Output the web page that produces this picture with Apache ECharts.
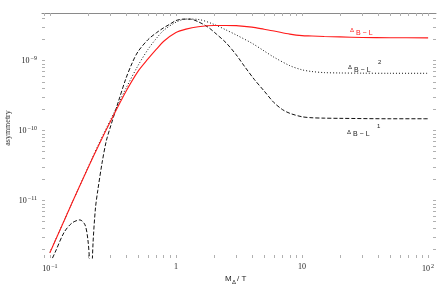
<!DOCTYPE html>
<html><head><meta charset="utf-8">
<script src="https://cdn.jsdelivr.net/npm/echarts@6/dist/echarts.min.js"></script>
<style>html,body{margin:0;padding:0;background:#fff}#c{width:441px;height:290px}</style>
</head><body><div id="c"></div>
<script>
// ---- data (x = M_Delta/T, y = asymmetry) ----
const xMain = [0.1, 0.15, 0.2, 0.25, 0.3, 0.4, 0.5, 0.6, 0.7, 0.8, 1.0, 1.2, 1.5, 2, 2.5, 3, 4, 5, 6, 8, 10, 12, 15, 20, 30, 50, 100];
const redValues = [1.8e-12, 9.3e-12, 2.9e-11, 6.8e-11, 1.32e-10, 3.6e-10, 7.05e-10, 1.06e-9, 1.46e-9, 1.9e-9, 2.53e-9, 2.83e-9, 3.06e-9, 3.19e-9, 3.19e-9, 3.17e-9, 3.02e-9, 2.82e-9, 2.66e-9, 2.4e-9, 2.28e-9, 2.26e-9, 2.22e-9, 2.19e-9, 2.15e-9, 2.13e-9, 2.12e-9];
const dottedValues = [1.82e-12, 9.3e-12, 2.95e-11, 7.08e-11, 1.38e-10, 3.98e-10, 8.51e-10, 1.45e-9, 2.09e-9, 2.72e-9, 3.55e-9, 3.94e-9, 3.89e-9, 3.31e-9, 2.75e-9, 2.34e-9, 1.78e-9, 1.38e-9, 1.12e-9, 8.5e-10, 7.41e-10, 7.0e-10, 6.76e-10, 6.68e-10, 6.64e-10, 6.61e-10, 6.61e-10];
const xDashed = [0.1, 0.11, 0.13, 0.15, 0.173, 0.19, 0.2, 0.206, 0.211, 0.215, 0.22, 0.23, 0.24, 0.26, 0.28, 0.3, 0.35, 0.4, 0.45, 0.5, 0.6, 0.7, 0.8, 0.9, 1.0, 1.15, 1.3, 1.5, 1.8, 2.1, 2.5, 3, 3.5, 4.2, 5, 6, 7, 8, 10, 12, 15, 20, 50, 100];
const dashedValues = [1.26e-12, 1.82e-12, 3.55e-12, 4.8e-12, 5.3e-12, 4.5e-12, 2.8e-12, 1.4e-12, 2.5e-13, 8e-13, 2.5e-12, 7.9e-12, 1.41e-11, 3.55e-11, 7.1e-11, 1.09e-10, 2.63e-10, 5.5e-10, 9.33e-10, 1.35e-9, 2.0e-9, 2.51e-9, 2.96e-9, 3.35e-9, 3.75e-9, 3.93e-9, 3.93e-9, 3.61e-9, 3.01e-9, 2.39e-9, 1.8e-9, 1.22e-9, 8.28e-10, 5.35e-10, 3.7e-10, 2.51e-10, 2.0e-10, 1.77e-10, 1.58e-10, 1.53e-10, 1.51e-10, 1.5e-10, 1.48e-10, 1.48e-10];
const xTickValues = [0.1, 1, 10, 100];
const xTickLabels = ['10{s|−1}', '1', '10', '10{s|2}'];
const yTickValues = [1e-11, 1e-10, 1e-9];
const yTickLabels = ['10{s|−11}', '10{s|−10}', '10{s|−9}'];

// ---- axis ranges (log10 space) ----
const XMIN = -1.0625, XMAX = 2.0625, YMIN = -11.82, YMAX = -8.318;
const L = Math.log10;
function minorTicks(lo, hi) {
  const out = [];
  for (let n = Math.floor(lo) - 1; n <= Math.ceil(hi); n++)
    for (let k = 1; k <= 9; k++) { const v = L(k) + n; if (v >= lo - 1e-9 && v <= hi + 1e-9) out.push(v); }
  return out;
}
const xTicksAll = minorTicks(XMIN, XMAX), yTicksAll = minorTicks(YMIN, YMAX);
const xMajorLog = xTickValues.map(L), yMajorLog = yTickValues.map(L);
function fmt(majors, labels) {
  return v => { const i = majors.findIndex(m => Math.abs(m - v) < 1e-6); return i >= 0 ? labels[i] : ''; };
}
const serif = 'Liberation Serif';
const labelRich = { s: { fontSize: 6, fontFamily: serif, color: '#222', verticalAlign: 'top', lineHeight: 11, padding: [0,0,4,1] } };
const tickStyle = { color: '#b0b0b0', width: 1 };
const pairs = (xs, ys) => xs.map((x, i) => [L(x), L(ys[i])]);

const chart = echarts.init(document.getElementById('c'), null, { renderer: 'canvas' });
chart.setOption({
  animation: false,
  grid: { left: 42, right: 5, top: 13, bottom: 32, containLabel: false },
  xAxis: [
    { type: 'value', min: XMIN, max: XMAX, position: 'bottom', splitLine: { show: false },
      axisLine: { show: false, onZero: false },
      axisTick: { show: true, inside: true, length: 3, customValues: xTicksAll, lineStyle: tickStyle },
      axisLabel: { show: true, customValues: xMajorLog, formatter: fmt(xMajorLog, xTickLabels), margin: 5,
        fontFamily: serif, fontSize: 8, color: '#222', rich: labelRich } },
    { type: 'value', min: XMIN, max: XMAX, position: 'top', splitLine: { show: false },
      axisLine: { show: true, onZero: false, lineStyle: { color: '#8a8a8a', width: 1 } },
      axisTick: { show: true, inside: true, length: 3, customValues: xTicksAll, lineStyle: tickStyle },
      axisLabel: { show: false } }
  ],
  yAxis: [
    { type: 'value', min: YMIN, max: YMAX, position: 'left', splitLine: { show: false },
      axisLine: { show: false, onZero: false },
      axisTick: { show: true, inside: true, length: 3, customValues: yTicksAll, lineStyle: tickStyle },
      axisLabel: { show: true, customValues: yMajorLog, formatter: fmt(yMajorLog, yTickLabels), margin: 5,
        fontFamily: serif, fontSize: 8, color: '#222', rich: labelRich } },
    { type: 'value', min: YMIN, max: YMAX, position: 'right', splitLine: { show: false },
      axisLine: { show: false, onZero: false },
      axisTick: { show: true, inside: true, length: 3, customValues: yTicksAll, lineStyle: tickStyle },
      axisLabel: { show: false } }
  ],
  series: [
    { type: 'line', data: pairs(xDashed, dashedValues), showSymbol: false, smooth: 0.3, clip: true,
      lineStyle: { color: '#111', width: 1, type: [4, 2] } },
    { type: 'line', data: pairs(xMain, dottedValues), showSymbol: false, smooth: 0.3, clip: true,
      lineStyle: { color: '#111', width: 1, type: [1, 2] } },
    { type: 'line', data: pairs(xMain, redValues), showSymbol: false, smooth: 0.3, clip: true,
      lineStyle: { color: '#ff1a1a', width: 1.1 } }
  ],
  graphic: [
    { type: 'text', x: 8, y: 128, rotation: Math.PI / 2, style: { text: 'asymmetry', font: '8px "Liberation Serif"', fill: '#333', align: 'center', verticalAlign: 'middle' } },
    { type: 'text', x: 225, y: 275, style: { text: 'M', font: '8px "Liberation Sans"', fill: '#222' } },
    { type: 'text', x: 232, y: 279, style: { text: 'Δ', font: '6px "Liberation Sans"', fill: '#222' } },
    { type: 'text', x: 237, y: 275, style: { text: '/ T', font: '8px "Liberation Sans"', fill: '#222' } },
    { type: 'text', x: 350, y: 27, style: { text: 'Δ', font: '6px "Liberation Sans"', fill: '#ff1a1a' } },
    { type: 'text', x: 356, y: 30, style: { text: 'B − L', font: '7px "Liberation Sans"', fill: '#ff1a1a' } },
    { type: 'text', x: 348, y: 64, style: { text: 'Δ', font: '6px "Liberation Sans"', fill: '#222' } },
    { type: 'text', x: 354, y: 67, style: { text: 'B − L', font: '7px "Liberation Sans"', fill: '#222' } },
    { type: 'text', x: 378, y: 59, style: { text: '2', font: '6px "Liberation Sans"', fill: '#222' } },
    { type: 'text', x: 347, y: 129, style: { text: 'Δ', font: '6px "Liberation Sans"', fill: '#222' } },
    { type: 'text', x: 353, y: 131, style: { text: 'B − L', font: '7px "Liberation Sans"', fill: '#222' } },
    { type: 'text', x: 377, y: 123, style: { text: '1', font: '6px "Liberation Sans"', fill: '#222' } }
  ]
});
</script></body></html>
